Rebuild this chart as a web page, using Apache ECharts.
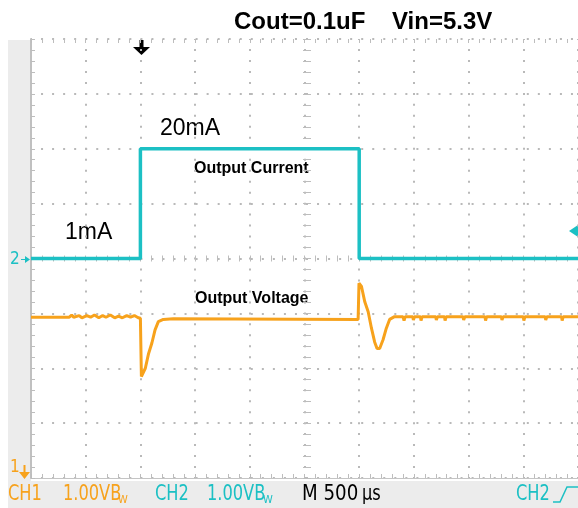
<!DOCTYPE html>
<html>
<head>
<meta charset="utf-8">
<title>Cout=0.1uF Vin=5.3V</title>
<script src="https://cdn.jsdelivr.net/npm/echarts@6/dist/echarts.min.js"></script>
<style>
  html, body { margin: 0; padding: 0; background: #fff; }
  #chart { width: 578px; height: 508px; }
</style>
</head>
<body>
<div id="chart"></div>
<script>
// time in us, 0 = trigger (M 500us/div, trigger 2 div from the left)
const timeMin = -1000
const timeMax = 4000
const timeStep = 500

// CH2 - load current, mA
const currentTime = [-1000, 0, 0, 2000, 2000, 4000]
const currentMa = [1, 1, 20, 20, 1, 1]

// CH1 - output voltage (1.00V/div, ground on bottom line)
const voltageTime = [
  -1000, -650, -628, -610, -560, -535, -490, -455, -420, -380, -345, -315, -275, -235, -200, -165, -125, -90, -55, -20,
  0, 9, 45, 75, 105, 134, 164, 209, 300, 1990,
  1998, 2021, 2051, 2082, 2112, 2141, 2163, 2187, 2218, 2248, 2278, 2323,
  2400, 2410, 2420, 2490, 2495, 2505, 2560, 2565, 2575, 2700, 2705, 2715, 2780, 2785, 2795,
  2950, 2955, 2965, 3150, 3155, 3165, 3300, 3305, 3315, 3500, 3505, 3515, 3700, 3705, 3715, 3850, 3855, 3865, 4000
]
const voltageV = [
  2.93, 2.93, 2.97, 2.93, 2.96, 2.92, 2.96, 2.93, 2.97, 2.92, 2.96, 2.93, 2.97, 2.92, 2.95, 2.92, 2.96, 2.93, 2.96, 2.92,
  2.91, 1.85, 2.00, 2.27, 2.46, 2.70, 2.85, 2.89, 2.90, 2.89,
  3.55, 3.49, 3.21, 3.03, 2.73, 2.48, 2.36, 2.36, 2.52, 2.73, 2.89, 2.94,
  2.94, 2.87, 2.94, 2.94, 2.88, 2.94, 2.94, 2.87, 2.94, 2.94, 2.88, 2.94, 2.94, 2.87, 2.94,
  2.94, 2.88, 2.94, 2.94, 2.87, 2.94, 2.94, 2.88, 2.94, 2.94, 2.87, 2.94, 2.94, 2.88, 2.94, 2.94, 2.87, 2.94, 2.94
]

// screen is 8 div tall; CH1 0V at bottom, CH2 marker (1mA) on the centre line
const voltMin = 0
const voltMax = 8
const ampMin = -37
const ampMax = 39

const orange = '#f7a21c'
const cyan = '#1cc0c4'
const gridGray = '#b9b9b9'
const tickGray = '#bdbdbd'
const scopeFont = "'Liberation Sans Narrow', 'DejaVu Sans Condensed', sans-serif"
const labelFont = "'Liberation Sans', Arial, sans-serif"

const chart = echarts.init(document.getElementById('chart'))

const gridBox = { left: 31, top: 39, right: -5, height: 439 }

function borderAxis(extra) {
  return Object.assign({
    axisLabel: { show: false },
    axisLine: { show: false, onZero: false },
    axisTick: { show: true, inside: true, length: 4, lineStyle: { color: tickGray, width: 1 } },
    minorTick: { show: true, splitNumber: 5, length: 4, lineStyle: { color: tickGray, width: 1 } },
    splitLine: { show: false }
  }, extra)
}

function readout(x, text, color, extra) {
  return Object.assign({
    type: 'text', x: x, y: 494, scaleX: 0.82,
    style: { text: text, font: '22px ' + scopeFont, fill: color, verticalAlign: 'middle' }
  }, extra)
}

chart.setOption({
  animation: false,
  backgroundColor: '#fff',
  grid: [
    Object.assign({}, gridBox),
    Object.assign({}, gridBox)
  ],
  xAxis: [
    borderAxis({
      type: 'value', gridIndex: 0, position: 'bottom', min: timeMin, max: timeMax, interval: timeStep,
      axisLine: { show: true, onZero: false, lineStyle: { color: '#c4c4c4', width: 1 } },
      splitLine: { show: true, lineStyle: { color: gridGray, width: 2, type: [2, 8.975], dashOffset: 1 } }
    }),
    borderAxis({ type: 'value', gridIndex: 0, position: 'top', min: timeMin, max: timeMax, interval: timeStep }),
    // centre horizontal line tick marks
    borderAxis({
      type: 'value', gridIndex: 1, position: 'bottom', offset: -222.5, min: timeMin, max: timeMax, interval: timeStep,
      axisTick: { show: true, inside: false, length: 6, lineStyle: { color: tickGray, width: 1 } },
      minorTick: { show: true, splitNumber: 5, length: 6, lineStyle: { color: tickGray, width: 1 } }
    })
  ],
  yAxis: [
    borderAxis({
      type: 'value', gridIndex: 0, position: 'left', min: voltMin, max: voltMax, interval: 1,
      axisLine: { show: true, onZero: false, lineStyle: { color: '#c0c0c0', width: 2 } },
      splitLine: { show: true, lineStyle: { color: gridGray, width: 2, type: [2, 9.04], dashOffset: 1 } }
    }),
    { type: 'value', gridIndex: 0, position: 'right', min: ampMin, max: ampMax, show: false, axisLine: { onZero: false } },
    // centre vertical line tick marks
    borderAxis({
      type: 'value', gridIndex: 1, position: 'left', offset: -280, min: voltMin, max: voltMax, interval: 1,
      axisTick: { show: true, inside: false, length: 8, lineStyle: { color: tickGray, width: 1 } },
      minorTick: { show: true, splitNumber: 5, length: 8, lineStyle: { color: tickGray, width: 1 } }
    })
  ],
  series: [
    {
      name: 'Output Current',
      type: 'line',
      xAxisIndex: 0,
      yAxisIndex: 1,
      data: currentTime.map((t, i) => [t, currentMa[i]]),
      symbol: 'none',
      lineStyle: { color: cyan, width: 3.5 },
      z: 3
    },
    {
      name: 'Output Voltage',
      type: 'line',
      xAxisIndex: 0,
      yAxisIndex: 0,
      data: voltageTime.map((t, i) => [t, voltageV[i]]),
      symbol: 'none',
      lineStyle: { color: orange, width: 3 },
      z: 3
    }
  ],
  graphic: [
    // scope frame, grey outside the graticule
    { type: 'rect', z: -10, shape: { x: 8, y: 40, width: 23, height: 468 }, style: { fill: '#ececec' } },
    { type: 'rect', z: -10, shape: { x: 8, y: 481, width: 570, height: 27 }, style: { fill: '#ececec' } },

    { type: 'text', x: 234, y: 22, style: { text: 'Cout=0.1uF    Vin=5.3V', font: 'bold 24px ' + labelFont, fill: '#000', verticalAlign: 'middle' } },

    { type: 'text', x: 160, y: 129, style: { text: '20mA', font: '23px ' + labelFont, fill: '#000', verticalAlign: 'middle' } },
    { type: 'text', x: 65, y: 233, style: { text: '1mA', font: '23px ' + labelFont, fill: '#000', verticalAlign: 'middle' } },
    { type: 'text', x: 194, y: 169, style: { text: 'Output Current', font: 'bold 16px ' + labelFont, fill: '#000', verticalAlign: 'middle' } },
    { type: 'text', x: 195, y: 299, style: { text: 'Output Voltage', font: 'bold 16px ' + labelFont, fill: '#000', verticalAlign: 'middle' } },

    // trigger position arrow
    { type: 'polygon', shape: { points: [[139.5, 40], [143.5, 40], [143.5, 47], [150, 47], [141.5, 55], [133, 47], [139.5, 47]] }, style: { fill: '#000' } },
    // trigger level marker
    { type: 'polygon', shape: { points: [[569, 231], [578, 225], [578, 237]] }, style: { fill: cyan } },

    // channel ground markers
    { type: 'text', x: 10, y: 260, style: { text: '2', font: '17px ' + scopeFont, fill: cyan, verticalAlign: 'middle' } },
    { type: 'polygon', shape: { points: [[21, 259], [25, 259], [25, 256], [30, 259.5], [25, 263], [25, 260], [21, 260]] }, style: { fill: cyan } },
    { type: 'text', x: 10, y: 468, style: { text: '1', font: '17px ' + scopeFont, fill: orange, verticalAlign: 'middle' } },
    { type: 'polygon', shape: { points: [[23.5, 465], [25.5, 465], [25.5, 472], [30, 472], [24.5, 479], [19, 472], [23.5, 472]] }, style: { fill: orange } },

    // readout row
    readout(8, 'CH1', orange),
    readout(63, '1.00VB', orange),
    { type: 'text', x: 118, y: 500, style: { text: 'W', font: '11px ' + scopeFont, fill: orange, verticalAlign: 'middle' } },
    readout(155, 'CH2', cyan),
    readout(207, '1.00VB', cyan),
    { type: 'text', x: 263, y: 500, style: { text: 'W', font: '11px ' + scopeFont, fill: cyan, verticalAlign: 'middle' } },
    readout(302, 'M 500', '#000', { scaleX: 0.92 }),
    readout(362, '\u00b5s', '#000'),
    readout(516, 'CH2', cyan),
    { type: 'polyline', shape: { points: [[553, 502], [560, 502], [567, 487], [580, 487]] }, style: { stroke: cyan, lineWidth: 1.5, fill: null } }
  ]
})
</script>
</body>
</html>
